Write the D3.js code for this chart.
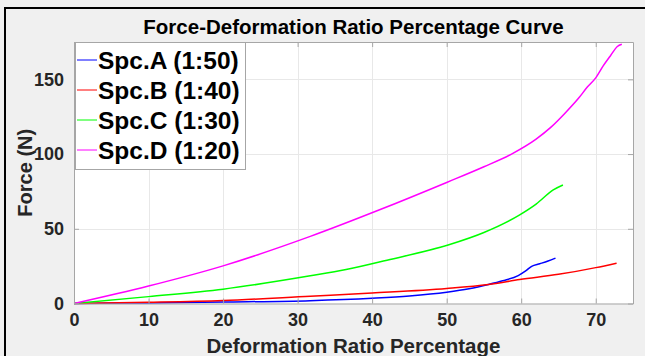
<!DOCTYPE html>
<html>
<head>
<meta charset="utf-8">
<script src="https://cdn.jsdelivr.net/npm/d3@7"></script>
<style>
  html, body { margin: 0; padding: 0; background: #f0f0f0; }
  svg { display: block; font-family: "Liberation Sans", Arial, sans-serif; }
</style>
</head>
<body>
<svg id="chart" width="645" height="356"></svg>
<script>
// Deformation ratio (%) and force (N) readings for each specimen
const seriesNames = ["Spc.A (1:50)", "Spc.B (1:40)", "Spc.C (1:30)", "Spc.D (1:20)"];
const seriesColors = ["#0000ff", "#ff0000", "#00ff00", "#ff00ff"];

const spcA_x = [0, 10, 20, 31.7, 40, 45, 50, 53, 55.6, 57.5, 59.6, 60.6, 61.4, 62.5, 63.6, 64.6];
const spcA_y = [0, 0.4, 1.0, 1.9, 3.5, 5.0, 7.5, 9.8, 12.7, 15.2, 18.7, 21.8, 24.9, 26.6, 28.4, 30.4];

const spcB_x = [0, 10, 20, 31.7, 40, 50, 55.6, 59.8, 65, 70, 72.8];
const spcB_y = [0, 0.8, 2.0, 4.9, 7.0, 10.0, 12.7, 16.0, 19.5, 24.0, 27.0];

const spcC_x = [0, 10, 20, 31.7, 36.5, 42, 50.3, 55, 59.8, 62, 64.3, 65.6];
const spcC_y = [0, 4.6, 9.6, 18.5, 22.7, 29.0, 39.3, 47.5, 59.3, 66.5, 76.0, 79.3];

const spcD_x = [0, 10, 20, 31.7, 41, 50, 55, 58.7, 62, 64, 66, 67.8, 68.9, 70, 71, 72, 72.9, 73.5];
const spcD_y = [0, 11.7, 25.2, 44.9, 62.7, 81.0, 91.5, 100.0, 110.0, 118.0, 128.0, 138.0, 145.0, 151.0, 159.0, 166.0, 172.0, 173.5];

const xTicks = [0, 10, 20, 30, 40, 50, 60, 70];
const yTicks = [0, 50, 100, 150];

const titleText = "Force-Deformation Ratio Percentage Curve";
const xLabelText = "Deformation Ratio Percentage";
const yLabelText = "Force (N)";

const series = [
  { xs: spcA_x, ys: spcA_y },
  { xs: spcB_x, ys: spcB_y },
  { xs: spcC_x, ys: spcC_y },
  { xs: spcD_x, ys: spcD_y }
].map((s, i) => ({
  name: seriesNames[i],
  color: seriesColors[i],
  points: s.xs.map((x, j) => [x, s.ys[j]])
}));

const svg = d3.select("#chart");
const W = 645, H = 356;
const plot = { left: 74, right: 633, top: 42, bottom: 303.5 };

// figure frame
svg.append("rect").attr("x", 5).attr("y", 8).attr("width", W).attr("height", H)
  .attr("fill", "#f0f0f0").attr("stroke", "#000").attr("stroke-width", 2);

const x = d3.scaleLinear().domain([0, 75]).range([plot.left, plot.right]);
const y = d3.scaleLinear().domain([0, 175]).range([plot.bottom, plot.top]);

// plot background
svg.append("rect").attr("x", plot.left).attr("y", plot.top)
  .attr("width", plot.right - plot.left).attr("height", plot.bottom - plot.top)
  .attr("fill", "#fff");

// grid
const grid = svg.append("g").attr("stroke", "#e8e8e8").attr("stroke-width", 1);
xTicks.filter(t => t > 0).forEach(t => {
  grid.append("line").attr("x1", Math.round(x(t)) + 0.5).attr("x2", Math.round(x(t)) + 0.5)
    .attr("y1", plot.top).attr("y2", plot.bottom);
});
yTicks.filter(t => t > 0).forEach(t => {
  grid.append("line").attr("y1", Math.round(y(t)) + 0.5).attr("y2", Math.round(y(t)) + 0.5)
    .attr("x1", plot.left).attr("x2", plot.right);
});

// data curves
const line = d3.line().x(d => x(d[0])).y(d => y(d[1])).curve(d3.curveMonotoneX);
svg.append("g").selectAll("path").data(series).join("path")
  .attr("d", d => line(d.points))
  .attr("fill", "none")
  .attr("stroke", d => d.color)
  .attr("stroke-width", 1.5)
  .attr("stroke-linejoin", "round");

// axes (box with inward ticks on all sides)
const axisColor = "#a6a6a6";
const tickLen = 5;
const xAxisB = d3.axisBottom(x).tickValues(xTicks).tickSizeInner(-tickLen).tickSizeOuter(0).tickPadding(10);
const xAxisT = d3.axisTop(x).tickValues(xTicks).tickSizeInner(-tickLen).tickSizeOuter(0).tickFormat("");
const yAxisL = d3.axisLeft(y).tickValues(yTicks).tickSizeInner(-tickLen).tickSizeOuter(0).tickPadding(10);
const yAxisR = d3.axisRight(y).tickValues(yTicks).tickSizeInner(-tickLen).tickSizeOuter(0).tickFormat("");

function styleAxis(g) {
  g.select(".domain").attr("stroke", axisColor);
  g.selectAll(".tick line").attr("stroke", axisColor);
  g.selectAll(".tick text").attr("fill", "#262626")
    .attr("font-size", 18).attr("font-weight", "bold")
    .attr("font-family", "Liberation Sans, Arial, sans-serif");
}
svg.append("g").attr("transform", `translate(0,${plot.bottom})`).call(xAxisB).call(styleAxis);
svg.append("g").attr("transform", `translate(0,${plot.top})`).call(xAxisT).call(styleAxis);
svg.append("g").attr("transform", `translate(${plot.left},0)`).call(yAxisL).call(styleAxis);
svg.append("g").attr("transform", `translate(${plot.right},0)`).call(yAxisR).call(styleAxis);

// title and axis labels
svg.append("text").attr("x", (plot.left + plot.right) / 2).attr("y", 34)
  .attr("text-anchor", "middle").attr("font-size", 20.5).attr("font-weight", "bold")
  .attr("fill", "#000").text(titleText);
svg.append("text").attr("x", (plot.left + plot.right) / 2).attr("y", 353)
  .attr("text-anchor", "middle").attr("font-size", 20.5).attr("font-weight", "bold")
  .attr("fill", "#262626").text(xLabelText);
svg.append("text")
  .attr("transform", `translate(32,${(plot.top + plot.bottom) / 2}) rotate(-90)`)
  .attr("text-anchor", "middle").attr("font-size", 20).attr("font-weight", "bold")
  .attr("fill", "#262626").text(yLabelText);

// legend
const legend = svg.append("g");
legend.append("rect").attr("x", 75.5).attr("y", 42.5).attr("width", 170).attr("height", 127)
  .attr("fill", "#fff").attr("stroke", "#a6a6a6").attr("stroke-width", 1);
series.forEach((s, i) => {
  const cy = 60 + i * 30;
  legend.append("line").attr("x1", 77).attr("x2", 97).attr("y1", cy).attr("y2", cy)
    .attr("stroke", s.color).attr("stroke-width", 1);
  legend.append("text").attr("x", 98).attr("y", cy + 8.5)
    .attr("font-size", 24.5).attr("font-weight", "bold").attr("fill", "#000").text(s.name);
});
</script>
</body>
</html>
